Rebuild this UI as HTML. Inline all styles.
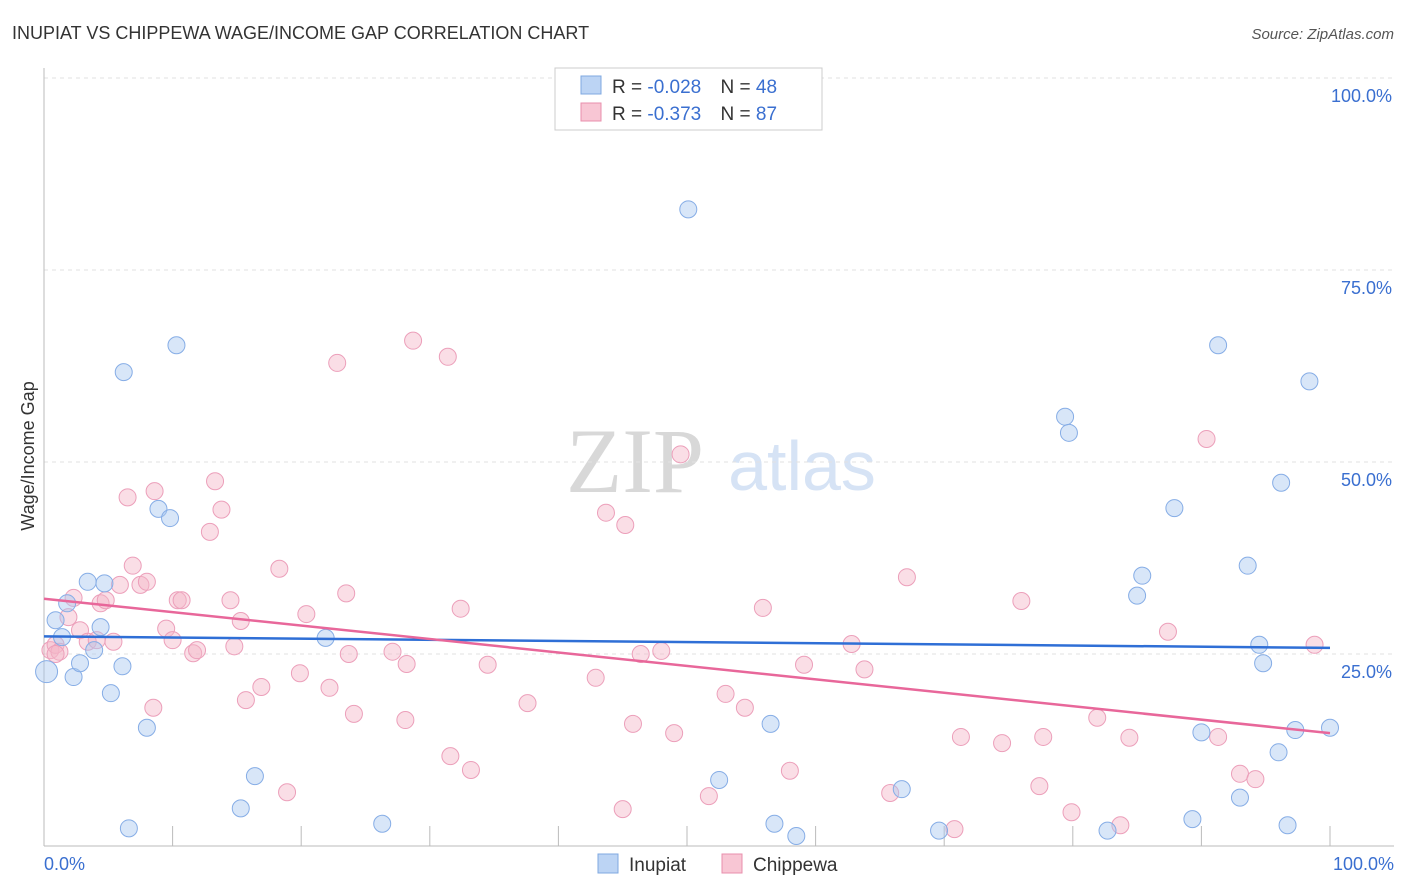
<!DOCTYPE html>
<html><head><meta charset="utf-8"><style>
body{margin:0;background:#fff;font-family:"Liberation Sans",sans-serif;}
#wrap{position:relative;width:1406px;height:892px;overflow:hidden;}
</style></head><body>
<div id="wrap">
<svg id="svg" width="1406" height="892" xmlns="http://www.w3.org/2000/svg">
<text x="12" y="39" font-size="18" fill="#333">INUPIAT VS CHIPPEWA WAGE/INCOME GAP CORRELATION CHART</text>
<text x="1394" y="39" font-size="15" fill="#555" text-anchor="end" font-style="italic">Source: ZipAtlas.com</text>
<text x="635" y="492" font-size="92" fill="#d8d8d8" font-family="Liberation Serif,serif" text-anchor="middle">ZIP</text>
<text x="802" y="490" font-size="70" fill="#d6e3f5" text-anchor="middle">atlas</text>
<g id="grid"></g>
<g id="pts"></g>
<g id="trend"></g>
<text transform="translate(34,456) rotate(-90)" font-size="18" fill="#333" text-anchor="middle">Wage/Income Gap</text>
<text x="44" y="870" font-size="18" fill="#3a6fd0">0.0%</text>
<text x="1394" y="870" font-size="18" fill="#3a6fd0" text-anchor="end">100.0%</text>
<g>
<rect x="555" y="68" width="267" height="62" fill="#fff" stroke="#ccc"/>
<rect x="581" y="76" width="20" height="18" fill="#bcd4f4" stroke="#7fa8e0"/>
<rect x="581" y="103" width="20" height="18" fill="#f8c6d4" stroke="#e88fac"/>
<text x="612" y="93" font-size="19" fill="#333">R = <tspan fill="#3a6fd0">-0.028</tspan>  <tspan dx="14">N = </tspan><tspan fill="#3a6fd0">48</tspan></text>
<text x="612" y="120" font-size="19" fill="#333">R = <tspan fill="#3a6fd0"> -0.373</tspan>  <tspan dx="14">N = </tspan><tspan fill="#3a6fd0">87</tspan></text>
</g>
<g>
<rect x="598" y="854" width="20" height="19" fill="#bcd4f4" stroke="#7fa8e0"/>
<text x="629" y="871" font-size="19" fill="#333">Inupiat</text>
<rect x="722" y="854" width="20" height="19" fill="#f8c6d4" stroke="#e88fac"/>
<text x="753" y="871" font-size="19" fill="#333">Chippewa</text>
</g>
</svg>
</div>
<script>
const yTicks=[25,50,75,100];
const xTicks=[0,10,20,30,40,50,60,70,80,90,100];
const inupiatX=[0.2,0.9,1.4,1.8,2.3,2.8,3.4,3.9,4.4,4.7,5.2,6.1,6.2,8.0,6.6,8.9,9.8,10.3,15.3,16.4,21.9,26.3,50.1,52.5,56.5,56.8,58.5,66.7,69.6,79.4,79.7,82.7,85.0,85.4,87.9,89.3,90.0,91.3,93.0,93.6,94.5,94.8,96.0,96.2,96.7,97.3,98.4,100];
const inupiatY=[22.7,29.4,27.2,31.6,22.0,23.8,34.4,25.5,28.5,34.2,19.9,23.4,61.7,15.4,2.3,43.9,42.7,65.2,4.9,9.1,27.1,2.9,82.9,8.6,15.9,2.9,1.3,7.4,2.0,55.9,53.8,2.0,32.6,35.2,44.0,3.5,14.8,65.2,6.3,36.5,26.2,23.8,12.2,47.3,2.7,15.1,60.5,15.4];
const chippewaX=[0.5,0.9,1.2,1.9,2.3,2.8,3.4,4.1,4.4,4.8,5.4,5.9,6.5,6.9,7.5,8.0,8.5,8.6,9.5,10.0,10.4,10.7,11.6,11.9,12.9,13.3,13.8,14.5,14.8,15.3,15.7,16.9,18.3,18.9,19.9,20.4,22.2,22.8,23.5,23.7,24.1,27.1,28.1,28.2,28.7,31.4,31.6,32.4,33.2,34.5,37.6,42.9,43.7,45.0,45.2,45.8,46.4,48.0,49.0,49.5,51.7,53.0,54.5,55.9,58.0,59.1,62.8,63.8,65.8,67.1,70.8,71.3,74.5,76.0,77.4,77.7,79.9,81.9,83.7,84.4,87.4,90.4,91.3,93.0,94.2,98.8,0.9];
const chippewaY=[25.5,26.2,25.3,29.8,32.3,28.1,26.6,26.8,31.6,32.0,26.6,34.0,45.4,36.5,34.0,34.4,18.0,46.2,28.3,26.8,32.0,32.0,25.1,25.5,40.9,47.5,43.8,32.0,26.0,29.3,19.0,20.7,36.1,7.0,22.5,30.2,20.6,62.9,32.9,25.0,17.2,25.3,16.4,23.7,65.8,63.7,11.7,30.9,9.9,23.6,18.6,21.9,43.4,4.8,41.8,15.9,25.0,25.4,14.7,51.0,6.5,19.8,18.0,31.0,9.8,23.6,26.3,23.0,6.9,35.0,2.2,14.2,13.4,31.9,7.8,14.2,4.4,16.7,2.7,14.1,27.9,53.0,14.2,9.4,8.7,26.2,25.0];
const trendInupiat=[27.3,25.8];
const trendChippewa=[32.2,14.7];
const NS='http://www.w3.org/2000/svg';
const X0=44,X1=1330,Y0=846,Y100=78;
const sx=v=>X0+(X1-X0)*v/100;
const sy=v=>Y0-(Y0-Y100)*v/100;
function mk(tag,attrs,parent){const e=document.createElementNS(NS,tag);for(const k in attrs)e.setAttribute(k,attrs[k]);parent.appendChild(e);return e;}
const grid=document.getElementById('grid');
yTicks.forEach(t=>{
  const l=mk('line',{x1:X0,x2:1394,y1:sy(t),y2:sy(t),stroke:'#e2e2e2','stroke-dasharray':'4,4'},grid);
  
  
  const tx=mk('text',{x:1392,y:sy(t)+24,'font-size':18,fill:'#3a6fd0','text-anchor':'end'},grid);
  tx.textContent=t.toFixed(1)+'%';
  
  
});
const ya=mk('line',{x1:X0,x2:X0,y1:68,y2:Y0,stroke:'#bbb'},grid);


const xa=mk('line',{x1:X0,x2:1394,y1:Y0,y2:Y0,stroke:'#bbb'},grid);


xTicks.forEach(t=>{
  const l=mk('line',{x1:sx(t),x2:sx(t),y1:826,y2:Y0,stroke:'#bbb'},grid);
  
  
});
const pts=document.getElementById('pts');
function drawPts(xs,ys,fill,stroke,name){
  xs.forEach((x,i)=>{
    const r=(name==='inupiat-point'&&i===0)?11:8.5;
    const c=mk('circle',{cx:sx(x),cy:sy(ys[i]),r:r,fill:fill,'fill-opacity':0.45,stroke:stroke,'stroke-width':1},pts);
    
    
  });
}
drawPts(chippewaX,chippewaY,'#f4b6c8','#ec9fba','chippewa-point');
drawPts(inupiatX,inupiatY,'#a9c8f0','#86ade6','inupiat-point');
const tr=document.getElementById('trend');
const t1=mk('line',{x1:sx(0),y1:sy(trendInupiat[0]),x2:sx(100),y2:sy(trendInupiat[1]),stroke:'#2f6fd6','stroke-width':2.5},tr);


const t2=mk('line',{x1:sx(0),y1:sy(trendChippewa[0]),x2:sx(100),y2:sy(trendChippewa[1]),stroke:'#e8679a','stroke-width':2.5},tr);


</script>
</body></html>
